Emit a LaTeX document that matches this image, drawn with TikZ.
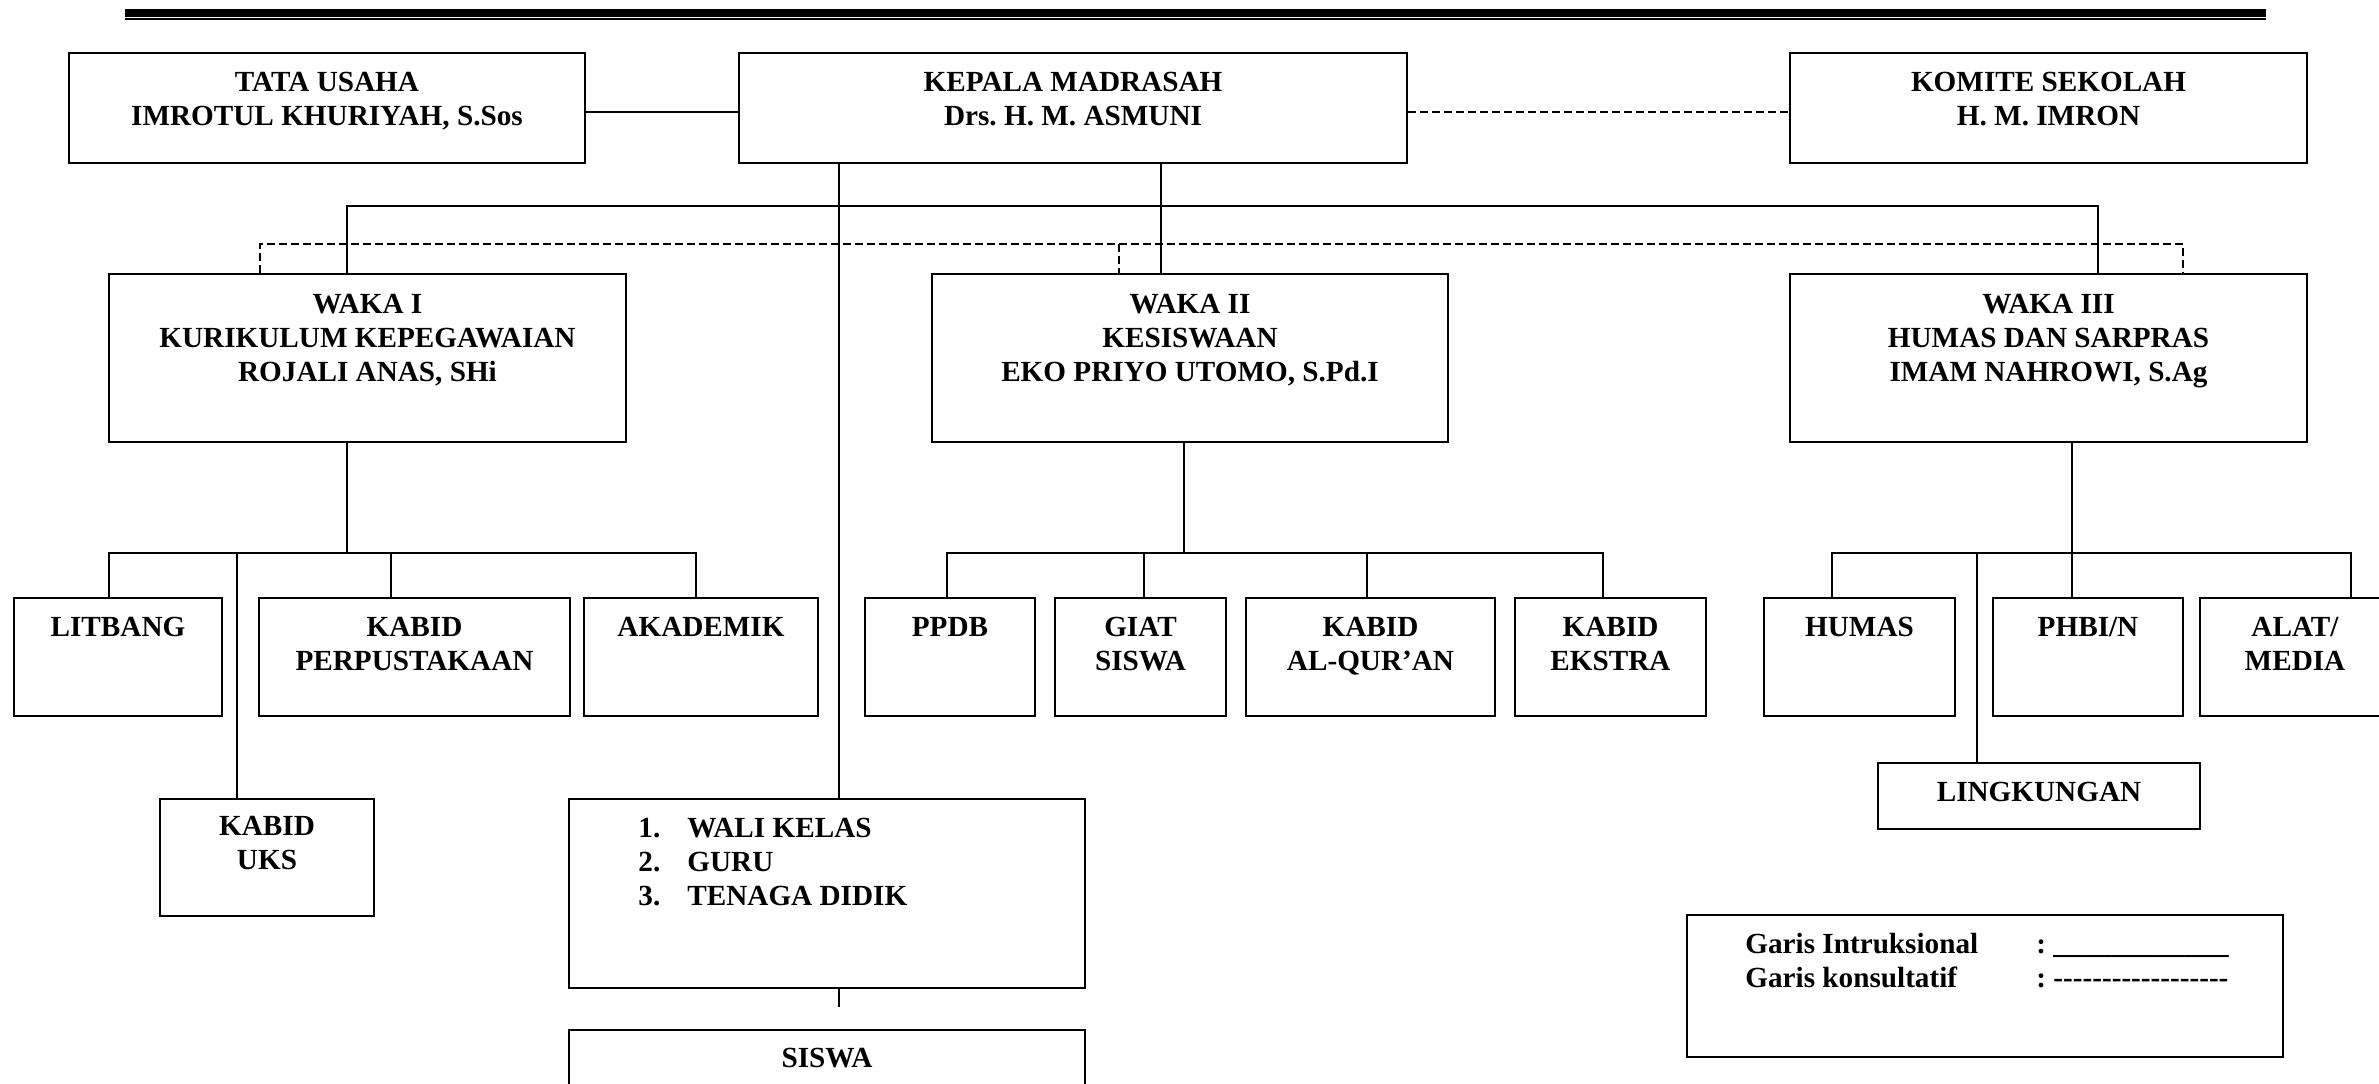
\documentclass[tikz,border=0pt]{standalone}
\usepackage{fontspec}
\setmainfont{Liberation Serif}
\usetikzlibrary{fit,calc}
\frenchspacing
\begin{document}
\begin{tikzpicture}[x=0.5pt,y=-0.5pt,
  box/.style={draw, line width=0.8pt, inner sep=0pt},
  ln/.style={line width=0.65pt},
  dsh/.style={line width=0.65pt, dash pattern=on 4pt off 2pt},
  lbl/.style={font=\fontsize{14.6pt}{17pt}\selectfont\bfseries\frenchspacing, align=center, inner sep=0pt, anchor=north},
  lgd/.style={font=\fontsize{14.6pt}{17pt}\selectfont\bfseries, inner sep=0pt, anchor=base west}]
\useasboundingbox (0,0) rectangle (2379,1083);
\fill[white] (0,0) rectangle (2379,1083);
% header rule
\fill (125,9) rectangle (2266,17);
\fill (125,18) rectangle (2266,20);
% boxes
\node[box, fit={(69,53)(585,163)}] (tata) {};
\node[box, fit={(739,53)(1407,163)}] (kepala) {};
\node[box, fit={(1790,53)(2307,163)}] (komite) {};
\node[box, fit={(109,274)(626,442)}] (waka1) {};
\node[box, fit={(932,274)(1448,442)}] (waka2) {};
\node[box, fit={(1790,274)(2307,442)}] (waka3) {};
\node[box, fit={(14,598)(222,716)}] (litbang) {};
\node[box, fit={(259,598)(570,716)}] (perpus) {};
\node[box, fit={(584,598)(818,716)}] (akademik) {};
\node[box, fit={(865,598)(1035,716)}] (ppdb) {};
\node[box, fit={(1055,598)(1226,716)}] (giat) {};
\node[box, fit={(1246,598)(1495,716)}] (quran) {};
\node[box, fit={(1515,598)(1706,716)}] (ekstra) {};
\node[box, fit={(1764,598)(1955,716)}] (humas) {};
\node[box, fit={(1993,598)(2183,716)}] (phbi) {};
\node[box, fit={(2200,598)(2390,716)}] (alat) {};
\node[box, fit={(160,799)(374,916)}] (uks) {};
\node[box, fit={(1878,763)(2200,829)}] (lingk) {};
\node[box, fit={(569,799)(1085,988)}] (wali) {};
\node[box, fit={(569,1030)(1085,1110)}] (siswa) {};
\node[box, fit={(1687,915)(2283,1057)}] (legend) {};
% labels
\node[lbl] (tataT) at ($(tata.north)+(0,20)$) {TATA USAHA\\IMROTUL KHURIYAH, S.Sos};
\node[lbl] (kepalaT) at ($(kepala.north)+(0,20)$) {KEPALA MADRASAH\\Drs. H. M. ASMUNI};
\node[lbl] (komiteT) at ($(komite.north)+(0,20)$) {KOMITE SEKOLAH\\H. M. IMRON};
\node[lbl] (waka1T) at ($(waka1.north)+(0,21)$) {WAKA I\\KURIKULUM KEPEGAWAIAN\\ROJALI ANAS, SHi};
\node[lbl] (waka2T) at ($(waka2.north)+(0,21)$) {WAKA II\\KESISWAAN\\EKO PRIYO UTOMO, S.Pd.I};
\node[lbl] (waka3T) at ($(waka3.north)+(0,21)$) {WAKA III\\HUMAS DAN SARPRAS\\IMAM NAHROWI, S.Ag};
\node[lbl] (litbangT) at ($(litbang.north)+(0,20)$) {LITBANG};
\node[lbl] (perpusT) at ($(perpus.north)+(0,20)$) {KABID\\PERPUSTAKAAN};
\node[lbl] (akademikT) at ($(akademik.north)+(0,20)$) {AKADEMIK};
\node[lbl] (ppdbT) at ($(ppdb.north)+(0,20)$) {PPDB};
\node[lbl] (giatT) at ($(giat.north)+(0,20)$) {GIAT\\SISWA};
\node[lbl] (quranT) at ($(quran.north)+(0,20)$) {KABID\\AL-QUR’AN};
\node[lbl] (ekstraT) at ($(ekstra.north)+(0,20)$) {KABID\\EKSTRA};
\node[lbl] (humasT) at ($(humas.north)+(0,20)$) {HUMAS};
\node[lbl] (phbiT) at ($(phbi.north)+(0,20)$) {PHBI/N};
\node[lbl] (alatT) at ($(alat.north)+(0,20)$) {ALAT/\\MEDIA};
\node[lbl] (uksT) at ($(uks.north)+(0,18)$) {KABID\\UKS};
\node[lbl] (lingkT) at ($(lingk.north)+(0,20)$) {LINGKUNGAN};
\node[lbl, anchor=north west, align=left] (waliT) at (638,818) {\makebox[24.5pt][l]{1.}WALI KELAS\\\makebox[24.5pt][l]{2.}GURU\\\makebox[24.5pt][l]{3.}TENAGA DIDIK};
\node[lbl] (siswaT) at ($(siswa.north)+(0,19)$) {SISWA};
\node[lgd] (lg1) at (1745,953) {Garis Intruksional};
\node[lgd] (lg2) at (1745,987) {Garis konsultatif};
\node[lgd] (lg1c) at (2036,953) {: \_\_\_\_\_\_\_\_\_\_\_\_};
\node[lgd] (lg2c) at (2036,987) {: -{}-{}-{}-{}-{}-{}-{}-{}-{}-{}-{}-{}-{}-{}-{}-{}-{}-{}};
% top connectors
\draw[ln] ([yshift=-2pt]tata.east) -- ([yshift=-2pt]kepala.west);
\draw[dsh] ([yshift=-2pt]kepala.east) -- ([yshift=-2pt]komite.west);
\coordinate (kx1) at (839,0);
\coordinate (kx2) at (1161,0);
\draw[ln] (kepala.south -| kx1) -- (wali.north -| kx1);
\draw[ln] (kepala.south -| kx2) -- (waka2.north -| kx2);
\coordinate (b1L) at (347,206);
\coordinate (b1R) at (2098,206);
\draw[ln] (waka1.north -| b1L) -- (b1L) -- (b1R) -- (waka3.north -| b1R);
\coordinate (d1L) at (260,244);
\coordinate (d1M) at (1119,244);
\coordinate (d1R) at (2183,244);
\draw[dsh] (waka1.north -| d1L) -- (d1L) -- (d1R) -- (waka3.north -| d1R);
\draw[dsh] (d1M) -- (waka2.north -| d1M);
% waka I subtree
\coordinate (w1) at (347,553);
\coordinate (s1a) at (109,553);
\coordinate (s1b) at (237,553);
\coordinate (s1c) at (391,553);
\coordinate (s1d) at (696,553);
\draw[ln] (waka1.south -| w1) -- (w1);
\draw[ln] (litbang.north -| s1a) -- (s1a) -- (s1d) -- (akademik.north -| s1d);
\draw[ln] (s1b) -- (uks.north -| s1b);
\draw[ln] (s1c) -- (perpus.north -| s1c);
% waka II subtree
\coordinate (w2) at (1184,553);
\coordinate (s2a) at (947,553);
\coordinate (s2b) at (1144,553);
\coordinate (s2c) at (1367,553);
\coordinate (s2d) at (1603,553);
\draw[ln] (waka2.south -| w2) -- (w2);
\draw[ln] (ppdb.north -| s2a) -- (s2a) -- (s2d) -- (ekstra.north -| s2d);
\draw[ln] (s2b) -- (giat.north -| s2b);
\draw[ln] (s2c) -- (quran.north -| s2c);
% waka III subtree
\coordinate (w3) at (2072,553);
\coordinate (s3a) at (1832,553);
\coordinate (s3b) at (1977,553);
\coordinate (s3d) at (2351,553);
\draw[ln] (waka3.south -| w3) -- (phbi.north -| w3);
\draw[ln] (humas.north -| s3a) -- (s3a) -- (s3d) -- (alat.north -| s3d);
\draw[ln] (s3b) -- (lingk.north -| s3b);
% stub below wali
\coordinate (stub) at (839,1007);
\draw[ln] (wali.south -| stub) -- (stub);
\end{tikzpicture}
\end{document}
